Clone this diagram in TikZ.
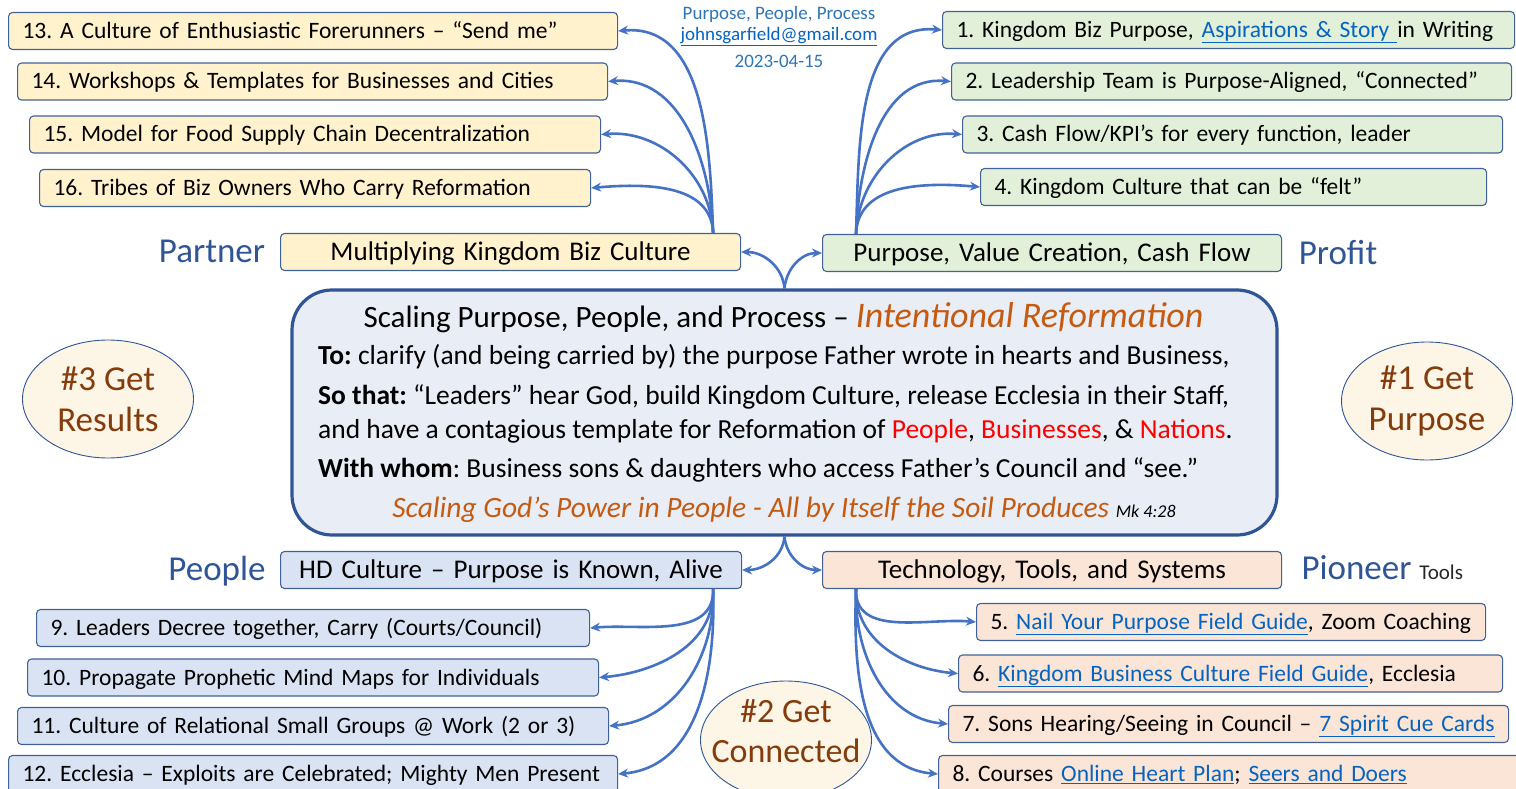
\documentclass[tikz,border=0pt]{standalone}
\usepackage{fontspec}
\setmainfont{Carlito}
\usepackage{xcolor}
\usepackage{tikz}
\usetikzlibrary{calc,arrows.meta,shapes.geometric}
\definecolor{boxline}{HTML}{41619A}
\definecolor{yellowfill}{HTML}{FFF2CC}
\definecolor{greenfill}{HTML}{E2F0D9}
\definecolor{bluefill}{HTML}{DAE3F3}
\definecolor{orangefill}{HTML}{FBE5D6}
\definecolor{centerfill}{HTML}{E9EDF6}
\definecolor{centerline}{HTML}{2F5597}
\definecolor{creamfill}{HTML}{FDF5E6}
\definecolor{brown}{HTML}{843C0C}
\definecolor{arrowblue}{HTML}{4472C4}
\definecolor{hand}{HTML}{C55A11}
\definecolor{linkblue}{HTML}{0563C1}
\definecolor{headblue}{HTML}{2E75B6}
\definecolor{labblue}{HTML}{2F5597}
\newcommand{\lnk}[1]{\textcolor{linkblue}{\underline{#1}}}
\newcommand{\handfont}{\itshape\color{hand}}
\frenchspacing
\tikzset{
  item/.style={draw=boxline, line width=1.1pt, rounded corners=4pt, minimum height=37pt,
    inner xsep=14pt, inner ysep=0pt, text height=18pt, text depth=3pt,
    anchor=west, align=left, font=\fontsize{23.5}{27}\selectfont},
  hub/.style={item, align=center, text height=20pt, text depth=4pt, font=\fontsize{27}{30}\selectfont},
  side/.style={text=labblue, font=\fontsize{35}{38}\selectfont},
  goal/.style={ellipse, draw=centerline, line width=0.9pt, fill=creamfill,
    minimum width=171pt, minimum height=118pt, inner sep=0pt},
  goaltext/.style={text=brown, align=center, inner sep=0pt, font=\fontsize{35}{41}\selectfont},
  line/.style={anchor=west, inner sep=0pt, font=\fontsize{27.5}{30}\selectfont},
  link/.style={draw=arrowblue, line width=2.6pt, -{Stealth[length=10pt,width=9pt]}},
}

\begin{document}
\begin{tikzpicture}[x=1pt, y=-1pt]
  \useasboundingbox (0,0) rectangle (1516,789);
  \clip (0,0) rectangle (1516,789);

  % header
  \node[text=headblue, font=\fontsize{19}{22}\selectfont] (head) at (779,14) {Purpose, People, Process};
  \node[font=\fontsize{19}{22}\selectfont] (mail) at (779,37) {\lnk{johnsgarfield@gmail.com}};
  \node[text=headblue, font=\fontsize{19}{22}\selectfont] (date) at (779,61) {2023-04-15};

  % centre
  \node[draw=centerline, line width=3.2pt, fill=centerfill, rounded corners=40pt,
    minimum width=985pt, minimum height=245pt] (core) at (784.5,412.5) {};
  \node[inner sep=0pt, font=\fontsize{31}{34}\selectfont] (title) at (783.5,318)
    {Scaling Purpose, People, and Process – {\handfont\fontsize{36}{38}\selectfont Intentional Reformation}};
  \node[line] (to) at (318,357) {\textbf{To:} clarify (and being carried by) the purpose Father wrote in hearts and Business,};
  \node[line] (sothat) at (318,397) {\textbf{So that:} “Leaders” hear God, build Kingdom Culture, release Ecclesia in their Staff,};
  \node[line] (and) at (318,431) {and have a contagious template for Reformation of \textcolor{red}{People}, \textcolor{red}{Businesses}, \& \textcolor{red}{Nations}.};
  \node[line] (whom) at (318,470) {\textbf{With whom}: Business sons \& daughters who access Father’s Council and “see.”};
  \node[inner sep=0pt, font=\fontsize{29.5}{32}\selectfont] (soil) at (784,510)
    {{\handfont Scaling God’s Power in People - All by Itself the Soil Produces} {\itshape\fontsize{18}{20}\selectfont Mk 4:28}};

  % goals
  \node[goal] (res) at (108,399) {};
  \node[goaltext] at (res) {\#3 Get\\Results};
  \node[goal] (pur) at (1427,401) {};
  \node[goaltext] at (pur) {\#1 Get\\Purpose};
  \node[goal] (con) at (786,740) {};
  \node[goaltext, font=\fontsize{34}{40}\selectfont] at ([yshift=9pt]con) {\#2 Get\\Connected};

  % partner
  \node[side] (partner) at (212,251) {Partner};
  \node[hub, fill=yellowfill, text width=432pt] (multi) at (280,252) {Multiplying Kingdom Biz Culture};
  \node[item, fill=yellowfill, text width=581pt] (p13) at (8,31) {13. A Culture of Enthusiastic Forerunners – “Send me”};
  \node[item, fill=yellowfill, text width=562pt] (p14) at (17,81.5) {14. Workshops \& Templates for Businesses and Cities};
  \node[item, fill=yellowfill, text width=543pt] (p15) at (29,134.5) {15. Model for Food Supply Chain Decentralization};
  \node[item, fill=yellowfill, text width=523pt] (p16) at (39,188) {16. Tribes of Biz Owners Who Carry Reformation};

  % profit
  \node[side] (profit) at (1338,253) {Profit};
  \node[hub, fill=greenfill, text width=431pt] (purp) at (822,253) {Purpose, Value Creation, Cash Flow};
  \node[item, fill=greenfill, text width=544pt] (q1) at (942,30) {1. Kingdom Biz Purpose, \lnk{Aspirations \& Story }in Writing};
  \node[item, fill=greenfill, text width=532pt] (q2) at (951,81.5) {2. Leadership Team is Purpose-Aligned, “Connected”};
  \node[item, fill=greenfill, text width=512pt] (q3) at (962,134.5) {3. Cash Flow/KPI’s for every function, leader};
  \node[item, fill=greenfill, text width=478pt] (q4) at (980,187) {4. Kingdom Culture that can be “felt”};

  % people
  \node[side] (people) at (217,571) {People};
  \node[hub, fill=bluefill, text width=433pt] (hd) at (280,570) {HD Culture – Purpose is Known, Alive};
  \node[item, fill=bluefill, text width=525pt] (r9) at (36,628) {9. Leaders Decree together, Carry (Courts/Council)};
  \node[item, fill=bluefill, text width=543pt] (r10) at (27,677.5) {10. Propagate Prophetic Mind Maps for Individuals};
  \node[item, fill=bluefill, text width=563pt] (r11) at (17,726) {11. Culture of Relational Small Groups @ Work (2 or 3)};
  \node[item, fill=bluefill, text width=581pt] (r12) at (8,774) {12. Ecclesia – Exploits are Celebrated; Mighty Men Present};

  % pioneer
  \node[side, anchor=west] (pioneer) at (1298,568) {Pioneer {\color{black!85}\fontsize{21}{23}\selectfont Tools}};
  \node[hub, fill=orangefill, text width=431pt] (tech) at (822,570) {Technology, Tools, and Systems};
  \node[item, fill=orangefill, text width=481pt] (s5) at (976,622) {5. \lnk{Nail Your Purpose Field Guide}, Zoom Coaching};
  \node[item, fill=orangefill, text width=516pt] (s6) at (958,673.5) {6. \lnk{Kingdom Business Culture Field Guide}, Ecclesia};
  \node[item, fill=orangefill, text width=532pt] (s7) at (948,724) {7. Sons Hearing/Seeing in Council – \lnk{7 Spirit Cue Cards}};
  \node[item, fill=orangefill, text width=562pt] (s8) at (938,774) {8. Courses \lnk{Online Heart Plan}; \lnk{Seers and Doers}};

  % connectors
  \coordinate (mtop) at ([xshift=-28pt]multi.north east);
  \coordinate (ptop) at ([xshift=34pt]purp.north west);
  \coordinate (hbot) at ([xshift=-29pt]hd.south east);
  \coordinate (tbot) at ([xshift=34pt]tech.south west);

  \draw[link] (core.north) to[out=95,in=0] (multi.east);
  \draw[link] (core.north) to[out=85,in=180] (purp.west);
  \draw[link] (core.south) to[out=-95,in=0] (hd.east);
  \draw[link] (core.south) to[out=-85,in=180] (tech.west);

  \foreach \n in {p13,p14,p15,p16}
    \draw[link] (mtop) to[out=92,in=5] (\n.east);
  \foreach \n in {q1,q2,q3,q4}
    \draw[link] (ptop) to[out=88,in=175] (\n.west);
  \foreach \n in {r9,r10,r11,r12}
    \draw[link] (hbot) to[out=-88,in=5] (\n.east);
  \foreach \n in {s5,s6,s7,s8}
    \draw[link] (tbot) to[out=-92,in=175] (\n.west);
\end{tikzpicture}
\end{document}
